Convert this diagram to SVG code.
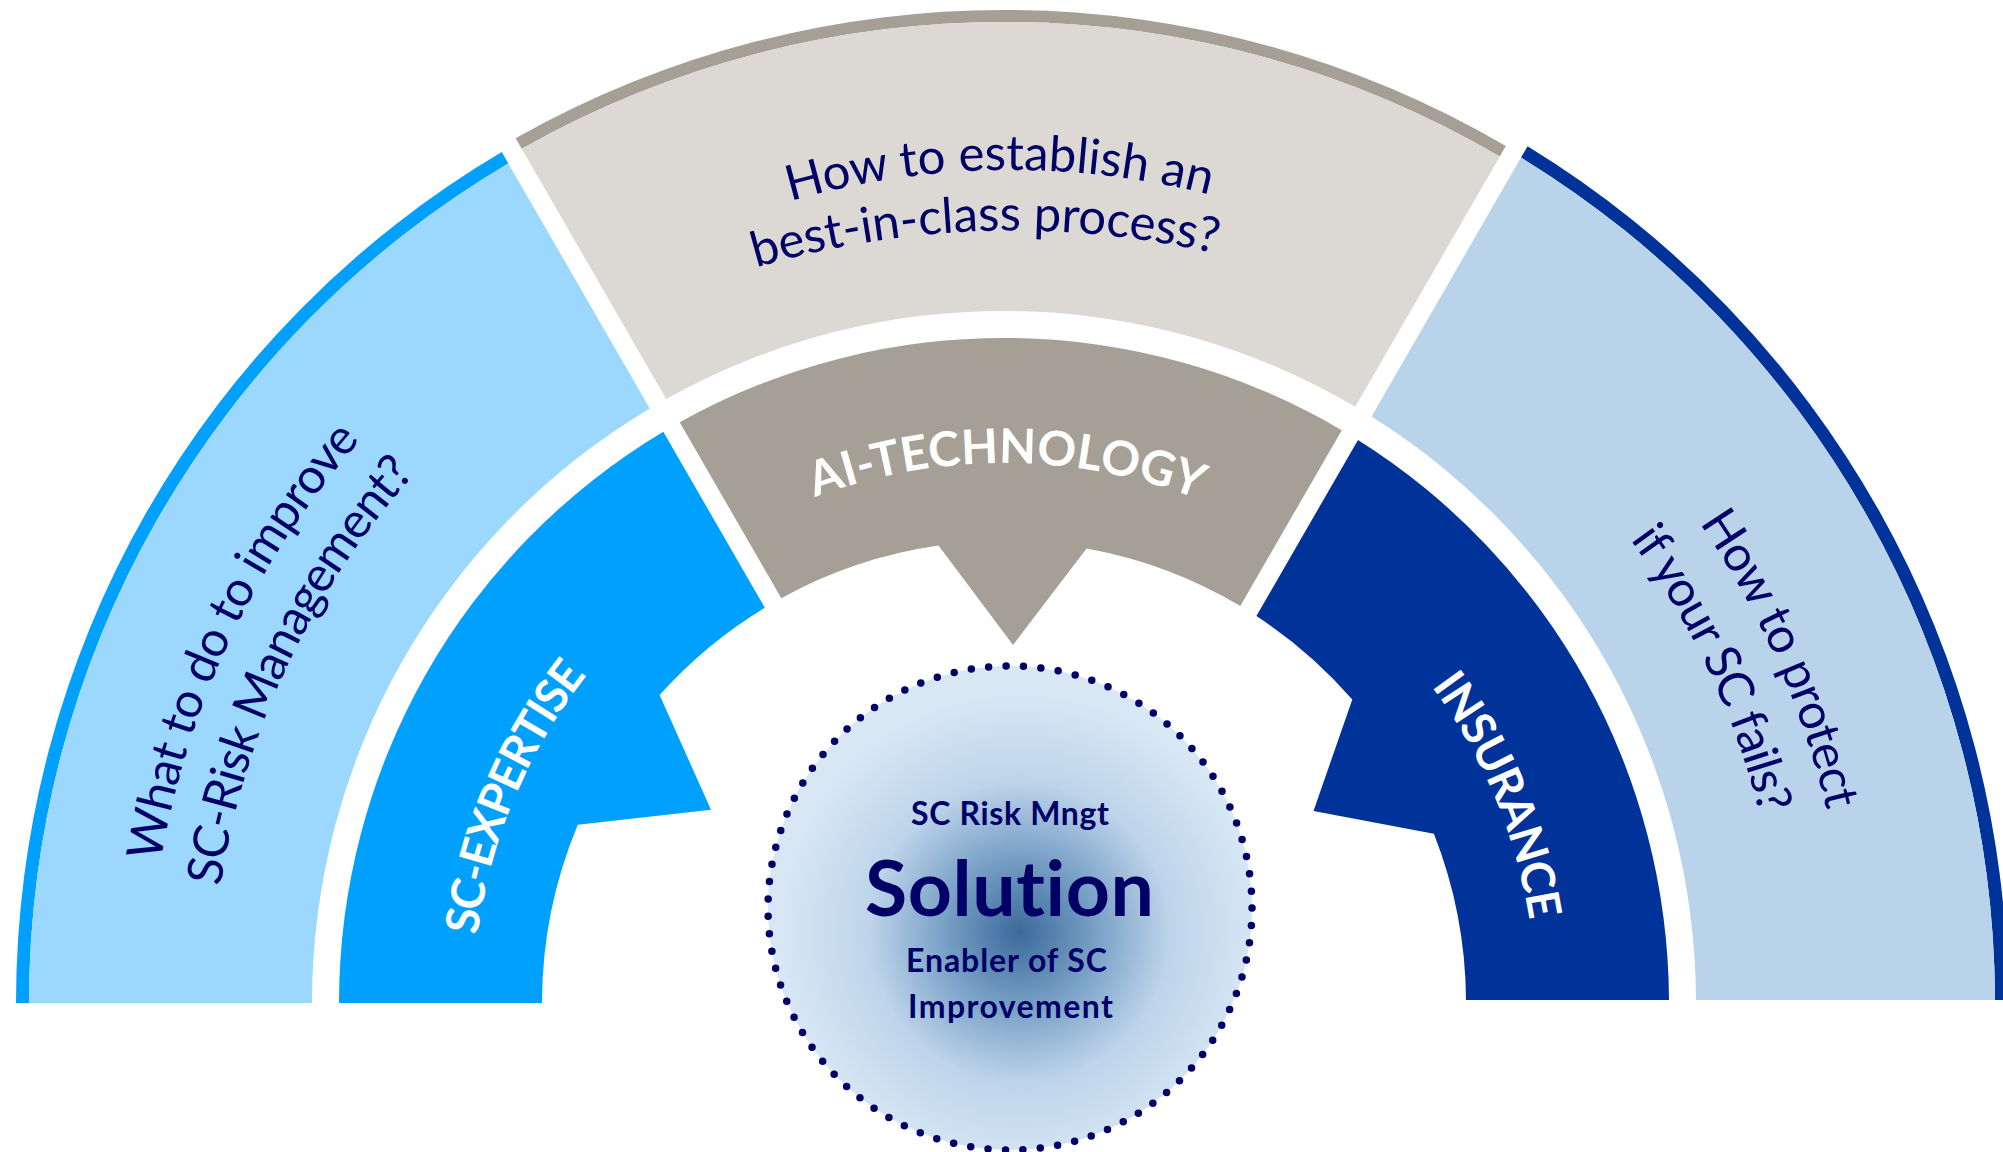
<svg xmlns="http://www.w3.org/2000/svg" width="2003" height="1152" viewBox="0 0 2003 1152">
<defs>
  <radialGradient id="solGrad" cx="0.52" cy="0.55" r="0.5">
    <stop offset="0" stop-color="#3b6a9a"/>
    <stop offset="0.32" stop-color="#7aa1c7"/>
    <stop offset="0.62" stop-color="#bdd4ea"/>
    <stop offset="1" stop-color="#d9e7f5"/>
  </radialGradient>
  <path id="pTop1" d="M601.2,283.5 A800,800 0 0 1 1401.1,271.0"/>
  <path id="pTop2" d="M604.2,327.7 A907.5,907.5 0 0 1 1370.9,304.2"/>
  <path id="pL1" d="M149,1003 A855,855 0 0 1 462.4,341.4"/>
  <path id="pL2" d="M212,1003 A792,792 0 0 1 499.2,392.8"/>
  <path id="pR1" d="M1571.6,377 A845,845 0 0 1 1849,1003"/>
  <path id="pR2" d="M1499.5,401.9 A779,779 0 0 1 1783,1003"/>
  <path id="pAI" d="M624.2,619.2 A540,540 0 0 1 1387.8,623.2"/>
  <path id="pSC" d="M473,1003 A531,531 0 0 1 632.4,624.4"/>
  <path id="pINS" d="M1377.0,623.6 A532,532 0 0 1 1536,1003"/>
</defs>
<style>
  text { font-variant-ligatures: none; }
  .q { font-family: Lato, 'Open Sans', 'Liberation Sans', sans-serif; font-size: 49px; fill: #000066; }
  .lbl { font-family: Lato, 'Open Sans', 'Liberation Sans', sans-serif; font-weight: 700; font-size: 46px; fill: #ffffff; }
  .ctr { font-family: Lato, 'Open Sans', 'Liberation Sans', sans-serif; font-weight: 700; fill: #000066; text-anchor: middle; }
</style>
<rect width="2003" height="1152" fill="#ffffff"/>

<g id="outer-left">
  <path d="M16,1003 A988,988 0 0 1 501.8,152.1 L508.3,163.4 A975,975 0 0 0 29,1003 Z" fill="#00a0ff"/>
  <path d="M29,1003 A975,975 0 0 1 508.3,163.4 L649.8,408.5 A692,692 0 0 0 312,1003 Z" fill="#9cd8fd"/>
  <text class="q"><textPath href="#pL1" startOffset="50%" text-anchor="middle" textLength="473">What to do to improve</textPath></text>
  <text class="q"><textPath href="#pL2" startOffset="50%" text-anchor="middle" textLength="463">SC-Risk Management?</textPath></text>
</g>

<g id="outer-top">
  <path d="M515.7,138.3 A993,993 0 0 1 1505.8,146.1 L1499.8,156.5 A981,981 0 0 0 521.7,148.7 Z" fill="#a69f96"/>
  <path d="M521.7,148.7 A981,981 0 0 1 1499.8,156.5 L1355.3,406.8 A692,692 0 0 0 666.2,399.0 Z" fill="#dcd9d4"/>
  <text class="q"><textPath href="#pTop1" startOffset="50%" text-anchor="middle" textLength="424">How to establish an</textPath></text>
  <text class="q"><textPath href="#pTop2" startOffset="50%" text-anchor="middle" textLength="465">best-in-class process?</textPath></text>
</g>

<g id="outer-right">
  <path d="M1527.6,146.3 A1004,1004 0 0 1 2008,1000 L1995,1000 A991,991 0 0 0 1521.0,157.6 Z" fill="#003399"/>
  <path d="M1521.0,157.6 A991,991 0 0 1 1995,1000 L1696,1000 A692,692 0 0 0 1371.5,416.6 Z" fill="#b9d4ea"/>
  <text class="q"><textPath href="#pR1" startOffset="50%" text-anchor="middle" textLength="316">How to protect</textPath></text>
  <text class="q"><textPath href="#pR2" startOffset="50%" text-anchor="middle" textLength="306">if your SC fails?</textPath></text>
</g>

<g id="sc-expertise">
  <path d="M339,1003 A665,665 0 0 1 663.3,431.8 L764.8,607.7 A462,462 0 0 0 659.6,695.1 L711,809.8 L577.8,824.7 A462,462 0 0 0 542,1003 Z" fill="#00a0ff"/>
  <text class="lbl"><textPath href="#pSC" startOffset="50%" text-anchor="middle" textLength="286">SC-EXPERTISE</textPath></text>
</g>

<g id="ai-technology">
  <path d="M679.7,422.3 A665,665 0 0 1 1341.8,430.2 L1240.3,606.0 A462,462 0 0 0 1086.6,548.5 L1013,645 L938.5,545.6 A462,462 0 0 0 781.3,598.2 Z" fill="#a69f96"/>
  <text class="lbl" style="font-size:48px"><textPath href="#pAI" startOffset="50%" text-anchor="middle" textLength="392">AI-TECHNOLOGY</textPath></text>
</g>

<g id="insurance">
  <path d="M1358.0,440.0 A665,665 0 0 1 1669,1000 L1466,1000 A462,462 0 0 0 1433.9,833.8 L1313.5,811 L1352.3,699.6 A462,462 0 0 0 1256.4,616.0 Z" fill="#003399"/>
  <text class="lbl"><textPath href="#pINS" startOffset="50%" text-anchor="middle" textLength="256">INSURANCE</textPath></text>
</g>

<g id="solution">
  <circle cx="1010" cy="908" r="242" fill="url(#solGrad)"/>
  <circle cx="1010" cy="908" r="242" fill="none" stroke="#000066" stroke-width="7.5" stroke-linecap="round" stroke-dasharray="0 17.477"/>
  <text class="ctr" x="1010" y="825" font-size="32" textLength="198">SC Risk Mngt</text>
  <text class="ctr" x="1009.5" y="916" font-size="77" textLength="289">Solution</text>
  <text class="ctr" x="1006.5" y="972" font-size="32" textLength="201">Enabler of SC</text>
  <text class="ctr" x="1010.5" y="1018" font-size="32" textLength="205">Improvement</text>
</g>
</svg>
